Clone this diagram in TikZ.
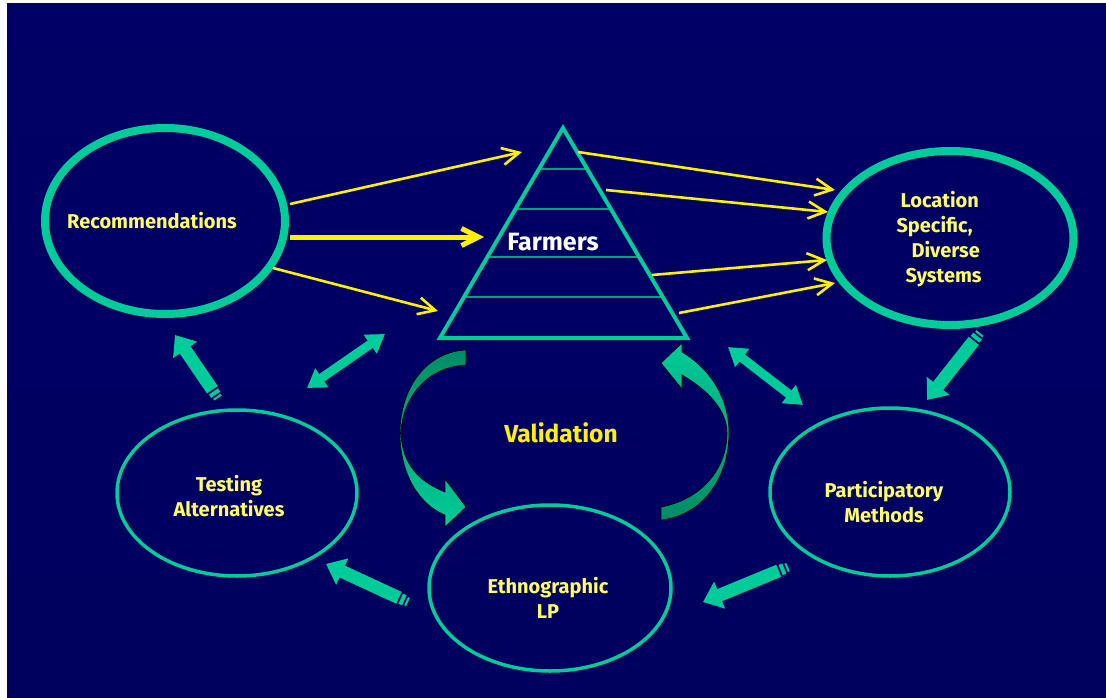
\documentclass[tikz,border=0pt]{standalone}
\usepackage{fontspec}
\setmainfont{Fira Sans}
\usetikzlibrary{shapes.geometric,arrows.meta,calc}

\definecolor{bgtop}{RGB}{0,0,102}
\definecolor{bgmid}{RGB}{0,0,44}
\definecolor{bgbot}{RGB}{0,0,94}
\definecolor{ringgreen}{RGB}{0,204,153}
\definecolor{deepgreen}{RGB}{0,140,100}
\definecolor{labelyellow}{RGB}{255,255,102}

\tikzset{
  ring/.style={draw=ringgreen, ellipse, line width=8pt, inner sep=0pt},
  thinring/.style={ring, line width=3.5pt},
  caption/.style={text=labelyellow, align=center, font=\bfseries\fontsize{20}{25}\selectfont},
  feed/.style={draw=yellow, line width=2.6pt, -{Straight Barb[length=17pt,width=17pt]}},
  blockarrow/.style={draw=ringgreen, line width=13pt, -{Triangle[length=18pt,width=28pt]}},
  stripe/.style={draw=ringgreen, line width=11pt},
  twoway/.style={draw=ringgreen, line width=9pt, {Triangle[length=18pt,width=22pt]}-{Triangle[length=18pt,width=22pt]}},
  tier/.style={draw=ringgreen!80!black, line width=1.2pt},
  crescent/.style={draw=black, line width=0.6pt}
}

\begin{document}
\begin{tikzpicture}[x=1pt,y=-1pt]

        \useasboundingbox (0,0) rectangle (1106,698);
        \fill[white] (0,0) rectangle (1106,698);
        \shade[top color=bgtop, middle color=bgmid, bottom color=bgbot] (7,4) rectangle (1106,698);

        \node[ring, minimum width=240pt, minimum height=186pt]     (rec)  at (165,221) {};
        \node[ring, minimum width=247pt, minimum height=174pt]     (loc)  at (950,238) {};
        \node[thinring, minimum width=240pt, minimum height=166pt] (test) at (237,493) {};
        \node[thinring, minimum width=242pt, minimum height=166pt] (eth)  at (550,588) {};
        \node[thinring, minimum width=240pt, minimum height=168pt] (part) at (890,492) {};

        \node[caption] (rectext)  at (152,221) {Recommendations};
        \node[caption, align=left, anchor=west] (loctext) at (893,239)
            {\hspace*{4pt}Location\\Specific,\\\hspace*{15pt}Diverse\\\hspace*{9pt}Systems};
        \node[caption] (testtext) at (229,496) {Testing\\Alternatives};
        \node[caption] (ethtext)  at (548,598) {Ethnographic\\LP};
        \node[caption] (parttext) at (884,502) {Participatory\\Methods};

        \coordinate (apex) at (563,128);
        \coordinate (bl)   at (440,338);
        \coordinate (br)   at (687,338);
        \foreach \t in {0.195,0.386,0.614,0.805}
            \draw[tier] ($(apex)!\t!(bl)$) -- ($(apex)!\t!(br)$);
        \draw[ringgreen, line width=4pt, line join=miter] (apex) -- (bl) -- (br) -- cycle;
        \node[text=white, font=\bfseries\fontsize{25}{28}\selectfont] (farm) at (553,242) {Farmers};

        \coordinate (ra) at (290,204);  \coordinate (fa) at (522,152);
        \coordinate (rb) at (290,237);  \coordinate (fb) at (484,237);
        \coordinate (rc) at (273,268);  \coordinate (fc) at (438,311);
        \coordinate (fd) at (578,152);  \coordinate (ld) at (835,190);
        \coordinate (fe) at (606,190);  \coordinate (le) at (828,212);
        \coordinate (ff) at (652,275);  \coordinate (lf) at (827,260);
        \coordinate (fg) at (679,313);  \coordinate (lg) at (835,283);
        \draw[feed] (ra) -- (fa);
        \draw[feed, line width=5pt] (rb) -- (fb);
        \draw[feed] (rc) -- (fc);
        \draw[feed] (fd) -- (ld);
        \draw[feed] (fe) -- (le);
        \draw[feed] (ff) -- (lf);
        \draw[feed] (fg) -- (lg);

        \coordinate (t1) at (218,398);  \coordinate (h1) at (175,335);
        \coordinate (t2) at (980,333);  \coordinate (h2) at (927,400);
        \coordinate (t3) at (788,567);  \coordinate (h3) at (703,602);
        \coordinate (t4) at (408,602);  \coordinate (h4) at (326,564);
        \foreach \a/\b in {t1/h1,t2/h2,t3/h3,t4/h4}{
            \draw[stripe, line width=9pt] (\a) -- ($(\a)!2pt!(\b)$);
            \draw[stripe] ($(\a)!4pt!(\b)$) -- ($(\a)!8pt!(\b)$);
            \draw[blockarrow] ($(\a)!10pt!(\b)$) -- (\b);
        }

        \coordinate (d1) at (307,388);  \coordinate (e1) at (385,334);
        \coordinate (d2) at (728,347);  \coordinate (e2) at (803,405);
        \draw[twoway] (d1) -- (e1);
        \draw[twoway] (d2) -- (e2);

        \shade[top color=deepgreen, bottom color=ringgreen, crescent]
            (466,350) .. controls (425,352) and (400,390) .. (400,433)
                      .. controls (400,475) and (420,505) .. (445,515)
            -- (445,527) -- (466,507) -- (445,479) -- (445,492)
                      .. controls (420,482) and (402,465) .. (401,433)
                      .. controls (402,400) and (425,367) .. (466,365) -- cycle;
        \shade[top color=ringgreen, bottom color=deepgreen, crescent]
            (661,520) .. controls (705,515) and (729,475) .. (729,433)
                      .. controls (729,400) and (712,370) .. (682,352)
            -- (682,343) -- (661,363) -- (682,389) -- (682,375)
                      .. controls (708,390) and (727,410) .. (727,433)
                      .. controls (727,470) and (700,500) .. (661,507) -- cycle;
        \node[text=yellow, font=\bfseries\fontsize{24.5}{28}\selectfont] (valid) at (561,433) {Validation};

\end{tikzpicture}
\end{document}
